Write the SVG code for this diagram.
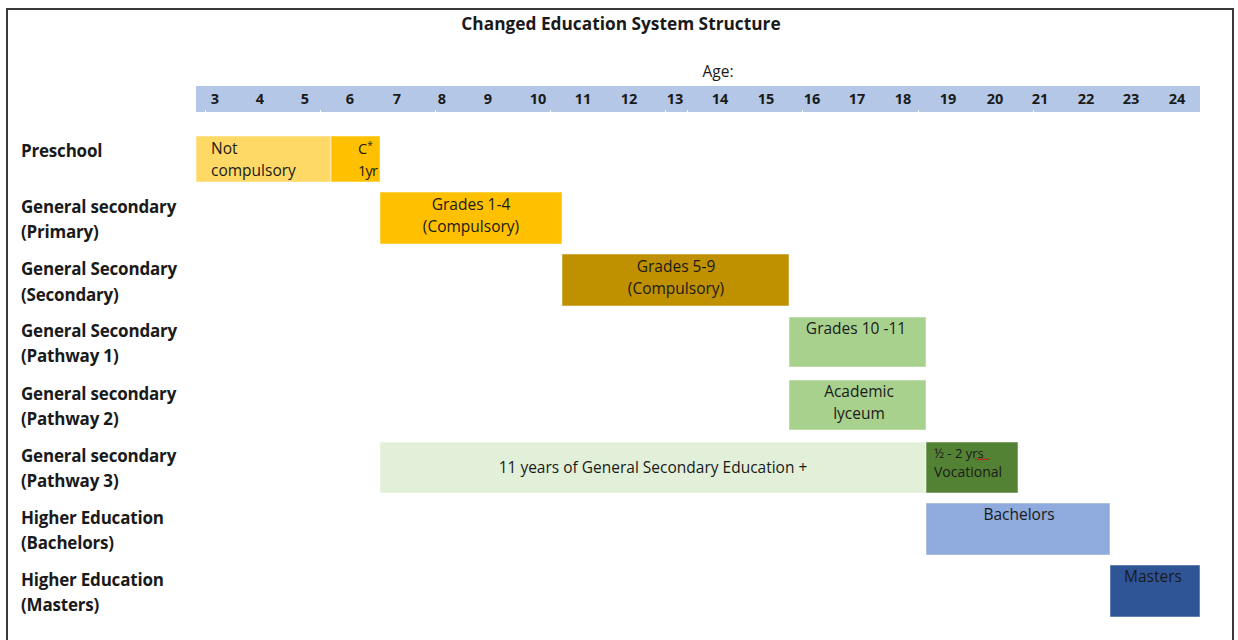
<svg xmlns="http://www.w3.org/2000/svg" width="1238" height="640" viewBox="0 0 1238 640">
  <style>
    text { font-family: "Open Sans", Lato, "Liberation Sans", sans-serif; fill: #1a1a1a; }
    .title { font-size: 17.3px; font-weight: bold; text-anchor: middle; }
    .age { font-size: 14.5px; font-weight: bold; text-anchor: middle; }
    .lbl { font-size: 17px; font-weight: bold; letter-spacing: -0.2px; }
    .box { font-size: 15.5px; }
    .mid { text-anchor: middle; }
    .bar { stroke: #ffffff; stroke-opacity: 0.5; stroke-width: 1; }
  </style>

  <rect x="0" y="0" width="1238" height="640" fill="#ffffff"/>
  <!-- frame -->
  <path d="M7 640 V9 H1233 V640" fill="none" stroke="#3a3a3a" stroke-width="2"/>

  <text class="title" x="621" y="30">Changed Education System Structure</text>
  <text class="box mid" x="718" y="77" style="font-size:15.5px">Age:</text>

  <!-- age scale -->
  <g id="age-scale">
    <rect x="196" y="86" width="1004" height="26" fill="#B4C7E7"/>
    <g fill="#ffffff">
      <rect x="205" y="110" width="1" height="2"/>
      <rect x="320" y="110" width="1" height="2"/>
      <rect x="435" y="110" width="1" height="2"/>
      <rect x="550" y="110" width="1" height="2"/>
      <rect x="665" y="110" width="1" height="2"/>
      <rect x="687" y="110" width="1" height="2"/>
      <rect x="802" y="110" width="1" height="2"/>
      <rect x="918" y="110" width="1" height="2"/>
      <rect x="1033" y="110" width="1" height="2"/>
    </g>
    <text class="age" x="215" y="104">3</text>
    <text class="age" x="260" y="104">4</text>
    <text class="age" x="305" y="104">5</text>
    <text class="age" x="350" y="104">6</text>
    <text class="age" x="397" y="104">7</text>
    <text class="age" x="442" y="104">8</text>
    <text class="age" x="488" y="104">9</text>
    <text class="age" x="538" y="104">10</text>
    <text class="age" x="583" y="104">11</text>
    <text class="age" x="629" y="104">12</text>
    <text class="age" x="675" y="104">13</text>
    <text class="age" x="720" y="104">14</text>
    <text class="age" x="766" y="104">15</text>
    <text class="age" x="812" y="104">16</text>
    <text class="age" x="857" y="104">17</text>
    <text class="age" x="903" y="104">18</text>
    <text class="age" x="948" y="104">19</text>
    <text class="age" x="995" y="104">20</text>
    <text class="age" x="1040" y="104">21</text>
    <text class="age" x="1086" y="104">22</text>
    <text class="age" x="1131" y="104">23</text>
    <text class="age" x="1177" y="104">24</text>
  </g>

  <!-- row labels -->
  <g id="row-labels">
    <text class="lbl" x="21" y="157">Preschool</text>
    <text class="lbl" x="21" y="213">General secondary</text>
    <text class="lbl" x="21" y="238">(Primary)</text>
    <text class="lbl" x="21" y="275">General Secondary</text>
    <text class="lbl" x="21" y="301">(Secondary)</text>
    <text class="lbl" x="21" y="337">General Secondary</text>
    <text class="lbl" x="21" y="362">(Pathway 1)</text>
    <text class="lbl" x="21" y="400">General secondary</text>
    <text class="lbl" x="21" y="425">(Pathway 2)</text>
    <text class="lbl" x="21" y="462">General secondary</text>
    <text class="lbl" x="21" y="487">(Pathway 3)</text>
    <text class="lbl" x="21" y="524">Higher Education</text>
    <text class="lbl" x="21" y="549">(Bachelors)</text>
    <text class="lbl" x="21" y="586">Higher Education</text>
    <text class="lbl" x="21" y="611">(Masters)</text>
  </g>

  <!-- stage bars -->
  <g id="preschool-optional">
    <rect class="bar" x="196" y="136" width="135" height="46" fill="#FFD966"/>
    <text class="box" x="211" y="154">Not</text>
    <text class="box" x="211" y="176">compulsory</text>
  </g>
  <g id="preschool-compulsory">
    <rect class="bar" x="331" y="136" width="49" height="46" fill="#FFC000"/>
    <text class="box" x="358" y="154" style="font-size:14.5px">C<tspan dy="-5" style="font-size:10px">*</tspan></text>
    <text class="box" x="358" y="176" style="font-size:14.5px" textLength="20">1yr</text>
  </g>
  <g id="primary">
    <rect class="bar" x="380" y="192" width="182" height="52" fill="#FFC000"/>
    <text class="box mid" x="471" y="210">Grades 1-4</text>
    <text class="box mid" x="471" y="232">(Compulsory)</text>
  </g>
  <g id="secondary">
    <rect class="bar" x="562" y="254" width="227" height="52" fill="#BF9000"/>
    <text class="box mid" x="676" y="272">Grades 5-9</text>
    <text class="box mid" x="676" y="294">(Compulsory)</text>
  </g>
  <g id="pathway-1">
    <rect class="bar" x="789" y="317" width="137" height="50" fill="#A9D18E"/>
    <text class="box mid" x="856" y="334">Grades 10 -11</text>
  </g>
  <g id="pathway-2">
    <rect class="bar" x="789" y="380" width="137" height="50" fill="#A9D18E"/>
    <text class="box mid" x="859" y="397">Academic</text>
    <text class="box mid" x="859" y="419">lyceum</text>
  </g>
  <g id="pathway-3">
    <rect class="bar" x="380" y="442" width="546" height="51" fill="#E2F0D9"/>
    <text class="box mid" x="653" y="473">11 years of General Secondary Education +</text>
  </g>
  <g id="vocational">
    <rect class="bar" x="926" y="442" width="92" height="51" fill="#548235"/>
    <text class="box" x="934" y="458" style="font-size:13px">½ - 2 yrs</text>
    <path d="M975 460 l1.5 -1.5 l1.5 1.5 l1.5 -1.5 l1.5 1.5 l1.5 -1.5 l1.5 1.5 l1.5 -1.5 l1.5 1.5 l1.5 -1.5 l1.5 1.5" fill="none" stroke="#d01010" stroke-width="1"/>
    <text class="box" x="934" y="477" style="font-size:14px">Vocational</text>
  </g>
  <g id="bachelors">
    <rect class="bar" x="926" y="503" width="184" height="52" fill="#8FAADC"/>
    <text class="box mid" x="1019" y="520">Bachelors</text>
  </g>
  <g id="masters">
    <rect class="bar" x="1110" y="565" width="90" height="52" fill="#2F5597"/>
    <text class="box mid" x="1153" y="582">Masters</text>
  </g>

  <g id="connectors"></g>
</svg>
